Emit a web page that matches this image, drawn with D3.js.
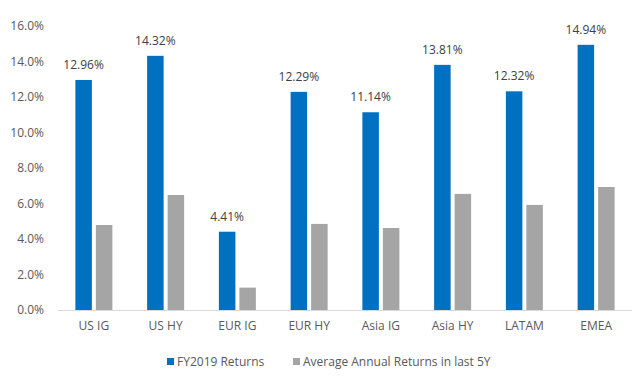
<!DOCTYPE html>
<html><head><meta charset="utf-8">
<script src="https://cdn.jsdelivr.net/npm/d3@7"></script>
<style>body{margin:0;background:#fff}svg text{font-family:"Open Sans","Noto Sans",sans-serif}</style>
</head><body><svg id="c" width="643" height="381"></svg>
<script>
const categories = ["US IG","US HY","EUR IG","EUR HY","Asia IG","Asia HY","LATAM","EMEA"];
const fy2019 = [12.96,14.32,4.41,12.29,11.14,13.81,12.32,14.94];
const avg5y = [4.79,6.48,1.26,4.85,4.62,6.54,5.92,6.93];
const seriesNames = ["FY2019 Returns","Average Annual Returns in last 5Y"];
const yTicks = [0,2,4,6,8,10,12,14,16];
const colors = ["#0070C0","#A5A5A5"];

const svg = d3.select("#c");
const m = {l:58, r:11, t:26, b:71};
const W = 643, H = 381;
const x = d3.scaleBand().domain(categories).range([m.l, W-m.r]).paddingInner(0).paddingOuter(0);
const y = d3.scaleLinear().domain([0,16]).range([H-m.b, m.t]);
const bw = 16.5, gap = 4;

svg.append("g").selectAll("text").data(yTicks).join("text")
  .attr("x", 44).attr("y", d=>y(d)).attr("dy","0.35em").attr("text-anchor","end")
  .attr("font-size",12).attr("fill","#595959").text(d=>d.toFixed(1)+"%");

svg.append("line").attr("x1",m.l).attr("x2",W-m.r).attr("y1",y(0)+0.5).attr("y2",y(0)+0.5)
  .attr("stroke","#D9D9D9").attr("stroke-width",1);

const series = [fy2019, avg5y];
series.forEach((vals,si)=>{
  svg.append("g").selectAll("rect").data(categories).join("rect")
    .attr("x", (c)=> x(c)+x.bandwidth()/2 + (si===0 ? -(bw+gap/2) : gap/2))
    .attr("width", bw)
    .attr("y", (c,i)=>y(vals[i]))
    .attr("height", (c,i)=>y(0)-y(vals[i]))
    .attr("fill", colors[si]);
});

svg.append("g").selectAll("text").data(categories).join("text")
  .attr("x",(c)=>x(c)+x.bandwidth()/2 - (bw+gap)/2)
  .attr("y",(c,i)=>y(fy2019[i])-11)
  .attr("text-anchor","middle").attr("font-size",12).attr("fill","#404040")
  .text((c,i)=>fy2019[i].toFixed(2)+"%");

svg.append("g").selectAll("text").data(categories).join("text")
  .attr("x",c=>x(c)+x.bandwidth()/2).attr("y",330).attr("text-anchor","middle")
  .attr("font-size",12).attr("fill","#595959").text(c=>c);

const leg = svg.append("g");
const lx = [167, 293];
seriesNames.forEach((n,i)=>{
  leg.append("rect").attr("x",lx[i]).attr("y",358).attr("width",7).attr("height",7).attr("fill",colors[i]);
  leg.append("text").attr("x",lx[i]+10).attr("y",362).attr("dy","0.35em").attr("font-size",12)
    .attr("fill","#595959").text(n);
});
</script></body></html>
